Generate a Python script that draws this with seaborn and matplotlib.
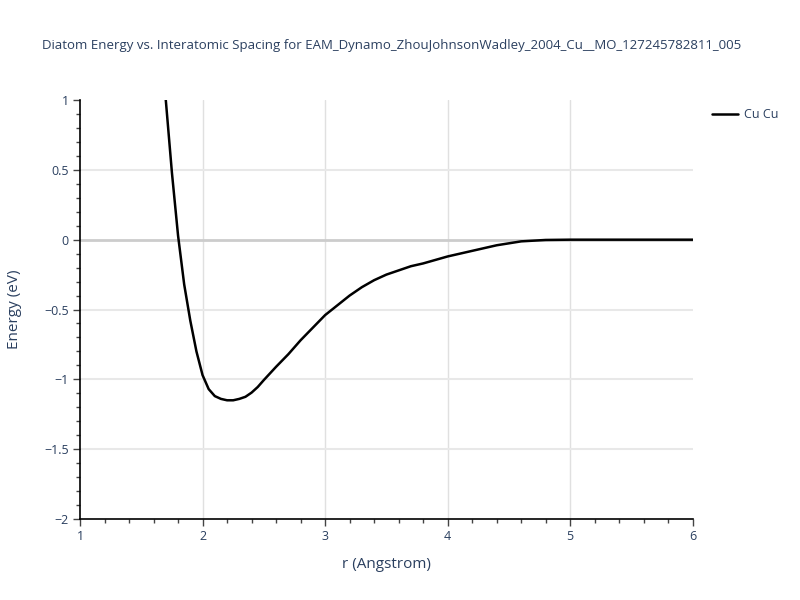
import matplotlib
matplotlib.use("Agg")
import matplotlib.pyplot as plt
import seaborn as sns
import pandas as pd
from matplotlib.ticker import MultipleLocator

r_values = [1.68, 1.70, 1.75, 1.80, 1.85, 1.90, 1.95, 2.00, 2.05, 2.10, 2.15, 2.20,
            2.25, 2.30, 2.35, 2.40, 2.45, 2.50, 2.60, 2.70, 2.80, 2.90, 3.00, 3.10,
            3.20, 3.30, 3.40, 3.50, 3.60, 3.70, 3.80, 3.90, 4.00, 4.20, 4.40,
            4.60, 4.80, 5.00, 5.50, 6.00]
energy_values = [1.18, 1.00, 0.48, 0.03, -0.32, -0.58, -0.80, -0.97, -1.07, -1.12,
                 -1.14, -1.15, -1.15, -1.14, -1.125, -1.095, -1.055, -1.005, -0.91,
                 -0.82, -0.72, -0.63, -0.54, -0.47, -0.40, -0.34, -0.29, -0.25,
                 -0.22, -0.19, -0.17, -0.145, -0.12, -0.08, -0.04, -0.012, -0.002,
                 0.0, 0.0, 0.0]
series_name = "Cu Cu"
title = "Diatom Energy vs. Interatomic Spacing for EAM_Dynamo_ZhouJohnsonWadley_2004_Cu__MO_127245782811_005"

df = pd.DataFrame({"r": r_values, "E": energy_values, "pair": series_name})

sns.set_style("white")
plt.rcParams["font.family"] = ["Open Sans", "DejaVu Sans"]
text_color = "#2a3f5f"

fig = plt.figure(figsize=(8, 6), dpi=100)
ax = fig.add_axes([0.1, 0.135, 0.766, 0.6983])

# grid
for xv in [2, 3, 4, 5]:
    ax.axvline(xv, color="#e0e0e0", lw=1, zorder=0)
for yv in [0.5, -0.5, -1, -1.5]:
    ax.axhline(yv, color="#e8e8e8", lw=1.5, zorder=0)
ax.axhline(0, color="#cccccc", lw=2, zorder=0)

sns.lineplot(data=df, x="r", y="E", hue="pair", palette=["black"], lw=1.8,
             ax=ax, sort=False, estimator=None, zorder=3)

ax.set_xlim(1, 6)
ax.set_ylim(-2, 1)
ax.xaxis.set_major_locator(MultipleLocator(1))
ax.xaxis.set_minor_locator(MultipleLocator(0.2))
ax.yaxis.set_major_locator(MultipleLocator(0.5))
ax.yaxis.set_minor_locator(MultipleLocator(0.1))
ax.set_yticks([1, 0.5, 0, -0.5, -1, -1.5, -2])
ax.set_yticklabels(["1", "0.5", "0", "\u22120.5", "\u22121", "\u22121.5", "\u22122"])
ax.tick_params(axis="both", which="major", direction="out", length=5, width=1,
               color="#444444", labelsize=9, labelcolor=text_color, pad=3)
ax.tick_params(axis="both", which="minor", direction="out", length=3, width=1,
               color="#444444")
ax.tick_params(left=True, bottom=True, which="both")

for side in ["top", "right"]:
    ax.spines[side].set_visible(False)
for side in ["left", "bottom"]:
    ax.spines[side].set_color("black")
    ax.spines[side].set_linewidth(1.2)

ax.set_xlabel("r (Angstrom)", fontsize=11, color=text_color, labelpad=10)
ax.set_ylabel("Energy (eV)", fontsize=11, color=text_color, labelpad=16)

fig.text(0.49, 1 - 45 / 600, title, ha="center", va="center", fontsize=9.5, color=text_color)

leg = ax.legend(loc="upper left", bbox_to_anchor=(712 / 800, 1 - 108 / 600),
                bbox_transform=fig.transFigure, frameon=False, fontsize=9,
                handlelength=2.1, handletextpad=0.5, borderaxespad=0, borderpad=0)
for t in leg.get_texts():
    t.set_color(text_color)
for l in leg.get_lines():
    l.set_linewidth(1.8)

fig.savefig("out.png", dpi=100)
